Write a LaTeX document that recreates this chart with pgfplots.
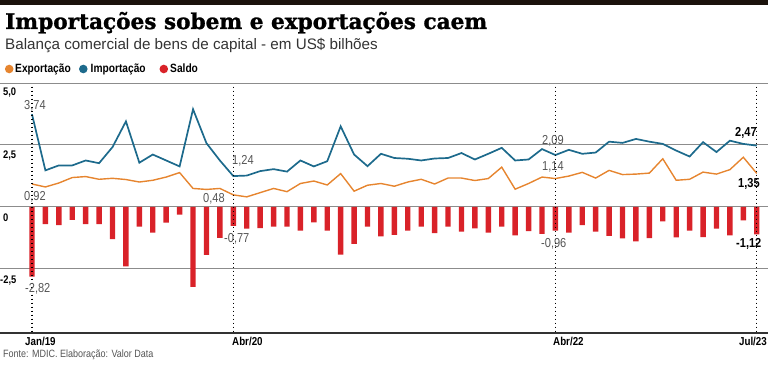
\documentclass[border=0pt]{standalone}
\usepackage{fontspec}
\setmainfont{Liberation Sans}
\newfontfamily\titlefont[BoldFeatures={FakeBold=1.2}]{DejaVu Serif}
\newfontfamily\condfont[FakeStretch=0.85]{Liberation Sans}
\usepackage{pgfplots}
\pgfplotsset{compat=1.18}
\usepackage{pgfplotstable}
\definecolor{expc}{HTML}{E6852F}
\definecolor{impc}{HTML}{1D6A8C}
\definecolor{salc}{HTML}{D92229}
\definecolor{gridgray}{HTML}{8C8C8C}
\definecolor{darkline}{HTML}{333333}
\definecolor{labgray}{HTML}{555555}
\definecolor{topbar}{HTML}{1B120C}
\pgfplotstableread{
idx exp imp sal
0 0.92 3.74 -2.82
1 0.80 1.47 -0.70
2 0.96 1.67 -0.74
3 1.18 1.67 -0.53
4 1.22 1.87 -0.70
5 1.11 1.76 -0.70
6 1.15 2.41 -1.31
7 1.10 3.45 -2.41
8 1.00 1.78 -0.80
9 1.07 2.11 -1.04
10 1.20 1.87 -0.64
11 1.38 1.63 -0.32
12 0.74 3.94 -3.24
13 0.70 2.57 -1.94
14 0.74 1.87 -1.26
15 0.48 1.24 -0.77
16 0.40 1.26 -0.88
17 0.57 1.44 -0.86
18 0.74 1.52 -0.80
19 0.61 1.42 -0.80
20 0.94 1.87 -0.96
21 1.04 1.63 -0.63
22 0.88 1.84 -0.96
23 1.34 3.25 -1.93
24 0.63 2.11 -1.50
25 0.87 1.64 -0.80
26 0.94 2.14 -1.20
27 0.83 1.97 -1.14
28 1.00 1.94 -0.96
29 1.11 1.87 -0.80
30 0.92 1.95 -1.07
31 1.16 1.97 -0.80
32 1.16 2.17 -1.00
33 1.06 1.91 -0.87
34 1.14 2.14 -1.04
35 1.60 2.38 -0.80
36 0.71 1.87 -1.16
37 0.94 1.91 -0.98
38 1.20 2.33 -1.10
39 1.14 2.09 -0.96
40 1.24 2.30 -1.04
41 1.39 2.14 -0.74
42 1.16 2.19 -1.00
43 1.47 2.63 -1.18
44 1.30 2.58 -1.28
45 1.32 2.74 -1.40
46 1.36 2.63 -1.27
47 1.94 2.54 -0.59
48 1.07 2.27 -1.24
49 1.11 2.03 -0.96
50 1.40 2.61 -1.23
51 1.32 2.21 -0.88
52 1.50 2.67 -1.16
53 2.00 2.54 -0.55
54 1.35 2.47 -1.12
}\datatable
\begin{document}
\begin{tikzpicture}[x=1pt,y=1pt]
\begin{axis}[at={(0pt,32pt)}, anchor=south west, scale only axis,
  width=768pt, height=250pt,
  xmin=-2.383, xmax=54.84, ymin=-5.1, ymax=5,
  axis line style={draw=none},
  xtick=\empty, ytick={-2.5,0,2.5,5}, yticklabels={},
  ymajorgrids, grid style={color=gridgray, line width=0.9pt},
  major tick length=0, clip=false]
\addplot[ybar, bar width=5.4pt, bar shift=0pt, fill=salc, draw=none] table[x=idx,y=sal]{\datatable};
\addplot[color=expc, line width=1.4pt, no marks] table[x=idx,y=exp]{\datatable};
\addplot[color=impc, line width=1.7pt, no marks] table[x=idx,y=imp]{\datatable};
\foreach \v in {0,15,39,54}{
  \edef\tmp{\noexpand\draw[black, line width=1.3pt, dash pattern=on 1.2pt off 2.8pt] (axis cs:\v,4.85) -- (axis cs:\v,-5.1);}
  \tmp
}
\draw[darkline, line width=1.4pt] (rel axis cs:0,0) -- (rel axis cs:1,0);
\end{axis}
% top bar and titles
\fill[topbar] (0,360) rectangle (768,365);
\node[anchor=base west, inner sep=0] at (5,336) {\titlefont\bfseries\fontsize{21.6}{22}\selectfont Importações sobem e exportações caem};
\node[anchor=base west, inner sep=0, text=darkline] at (5,315) {\fontsize{15.2}{15}\selectfont Balança comercial de bens de capital - em US\$ bilhões};
% legend
\fill[expc] (9.2,296) circle (4.3);
\node[anchor=base west, inner sep=0] at (15,292) {\condfont\bfseries\fontsize{12}{12}\selectfont Exportação};
\fill[impc] (83.3,296) circle (4.3);
\node[anchor=base west, inner sep=0] at (90.5,292) {\condfont\bfseries\fontsize{12}{12}\selectfont Importação};
\fill[salc] (163.8,296) circle (4.3);
\node[anchor=base west, inner sep=0] at (170,292) {\condfont\bfseries\fontsize{12}{12}\selectfont Saldo};
% y labels
\begin{scope}[every node/.style={anchor=base west, inner sep=0, font=\condfont\bfseries\fontsize{11}{11}\selectfont}]
\node at (3,270) {5,0};
\node at (3,207) {2,5};
\node at (3,144) {0};
\node at (0,82) {-2,5};
\end{scope}
% x labels
\begin{scope}[every node/.style={inner sep=0, font=\condfont\bfseries\fontsize{11.5}{11.5}\selectfont}]
\node[anchor=base west] at (25,20) {Jan/19};
\node[anchor=base west] at (232,20) {Abr/20};
\node[anchor=base west] at (553,20) {Abr/22};
\node[anchor=base east] at (767,20) {Jul/23};
\end{scope}
% data labels
\begin{scope}[every node/.style={anchor=west, inner sep=0, text=labgray, font=\condfont\fontsize{13}{13}\selectfont}]
\node at (24,259) {3,74};
\node at (24,168) {0,92};
\node at (25,76) {-2,82};
\node at (232,204) {1,24};
\node at (203,166) {0,48};
\node at (224,126) {-0,77};
\node at (542,224) {2,09};
\node at (542,198) {1,14};
\node at (541,121) {-0,96};
\end{scope}
\begin{scope}[every node/.style={anchor=west, inner sep=0, text=black, font=\condfont\bfseries\fontsize{13}{13}\selectfont}]
\node at (735,232) {2,47};
\node at (738,181) {1,35};
\node at (736,121) {-1,12};
\end{scope}
\node[anchor=base west, inner sep=0, text=labgray] at (3,8) {\condfont\fontsize{10.6}{10}\selectfont Fonte: MDIC. Elaboração: Valor Data};
\pgfresetboundingbox
\path[use as bounding box] (0,0) rectangle (768,365);
\end{tikzpicture}
\end{document}
